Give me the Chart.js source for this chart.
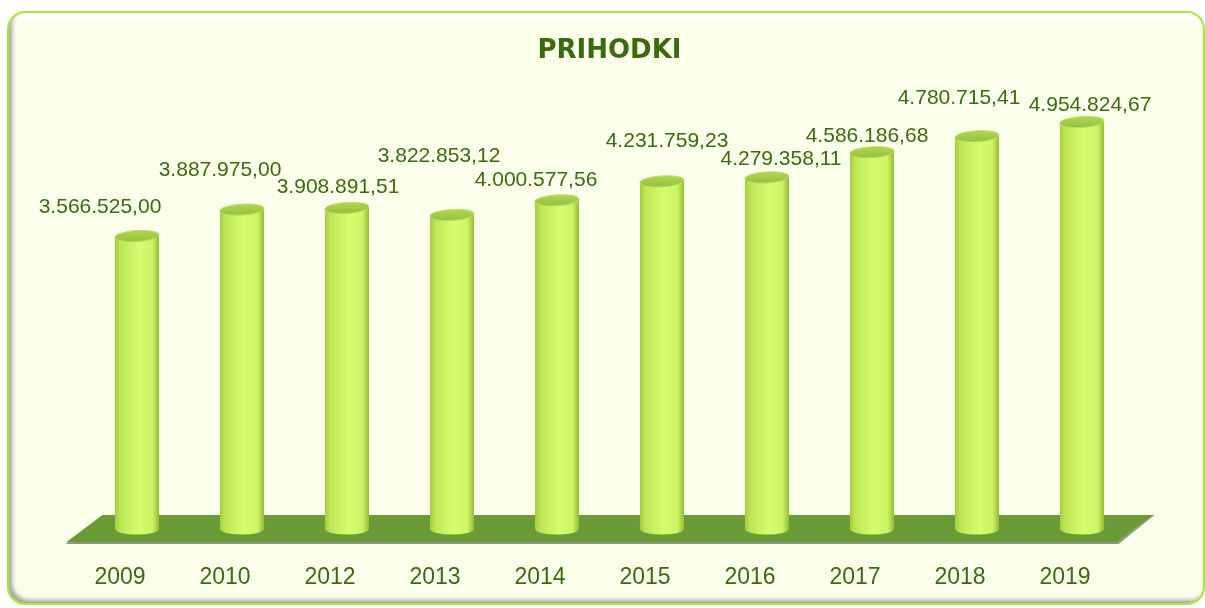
<!DOCTYPE html>
<html>
<head>
<meta charset="utf-8">
<script src="https://cdn.jsdelivr.net/npm/chart.js@4.4.1/dist/chart.umd.min.js"></script>
<style>
  html, body { margin: 0; padding: 0; background: #ffffff; }
  #frame {
    position: absolute; left: 7px; top: 11px; width: 1194px; height: 590px;
    border: 2px solid #a8e83c; border-radius: 18px; background: #fcfeec;
    box-shadow: inset 4px -4px 4px -1px rgba(90,90,90,0.55), inset 0 10px 6px -3px #ffffff;
  }
  #c { position: absolute; left: 0; top: 0; }
</style>
</head>
<body>
<div id="frame"></div>
<canvas id="c" width="1205" height="608"></canvas>
<script>
const categories = ['2009', '2010', '2012', '2013', '2014', '2015', '2016', '2017', '2018', '2019'];
const prihodki = [3566525.00, 3887975.00, 3908891.51, 3822853.12, 4000577.56, 4231759.23, 4279358.11, 4586186.68, 4780715.41, 4954824.67];
const valueLabels = ['3.566.525,00', '3.887.975,00', '3.908.891,51', '3.822.853,12', '4.000.577,56', '4.231.759,23', '4.279.358,11', '4.586.186,68', '4.780.715,41', '4.954.824,67'];
// label offsets from bar top (style, not data)
const labelDx = [-37, -22, -9, -13, -21, 5, 14, -5, -18, 8];
const labelDy = [-29, -39, -21, -59, -20, -40, -18, -16, -38, -17];

const textColor = '#3a6b0c';

const cylinderPlugin = {
  id: 'cylinders',
  beforeDatasetsDraw(chart) {
    const ctx = chart.ctx;
    const meta = chart.getDatasetMeta(0);
    const base = meta.data[0].base;
    const L = chart.chartArea.left, R = chart.chartArea.right;
    ctx.save();
    ctx.beginPath();
    ctx.moveTo(L + 18, base - 14);
    ctx.lineTo(R + 20, base - 14);
    ctx.lineTo(R - 16, base + 15);
    ctx.lineTo(L - 19, base + 15);
    ctx.closePath();
    ctx.fillStyle = '#8c9a84';
    ctx.fill();
    ctx.beginPath();
    ctx.moveTo(L + 18, base - 14);
    ctx.lineTo(R + 18, base - 14);
    ctx.lineTo(R - 18, base + 13);
    ctx.lineTo(L - 18, base + 13);
    ctx.closePath();
    ctx.fillStyle = '#6b9b36';
    ctx.fill();
    ctx.restore();
  },
  afterDatasetsDraw(chart) {
    const ctx = chart.ctx;
    const meta = chart.getDatasetMeta(0);
    ctx.save();
    meta.data.forEach((bar, i) => {
      const cx = bar.x, w = bar.width, top = bar.y, bot = bar.base;
      const x0 = cx - w / 2, x1 = cx + w / 2, rx = w / 2, ry = 5.5;
      const g = ctx.createLinearGradient(x0, 0, x1, 0);
      g.addColorStop(0, '#a4cc40');
      g.addColorStop(0.12, '#bfe655');
      g.addColorStop(0.55, '#d6fd70');
      g.addColorStop(0.85, '#cdf465');
      g.addColorStop(1, '#94bb38');
      ctx.beginPath();
      ctx.moveTo(x0, top);
      ctx.lineTo(x0, bot);
      ctx.ellipse(cx, bot, rx, ry, 0, Math.PI, 0, true);
      ctx.lineTo(x1, top);
      ctx.closePath();
      ctx.fillStyle = g;
      ctx.fill();
      ctx.beginPath();
      ctx.ellipse(cx, top, rx, ry, -0.06, 0, Math.PI * 2);
      const tg = ctx.createLinearGradient(0, top - ry, 0, top + ry);
      tg.addColorStop(0, '#b0d650');
      tg.addColorStop(1, '#96bf44');
      ctx.fillStyle = tg;
      ctx.fill();
      ctx.lineWidth = 1;
      ctx.strokeStyle = '#b9e05a';
      ctx.stroke();
      ctx.font = '21px "Liberation Sans", Arial, sans-serif';
      ctx.fillStyle = textColor;
      ctx.textAlign = 'center';
      ctx.textBaseline = 'middle';
      ctx.fillText(valueLabels[i], cx + labelDx[i], top + labelDy[i]);
    });
    ctx.restore();
  }
};

new Chart(document.getElementById('c'), {
  type: 'bar',
  data: {
    labels: categories,
    datasets: [{
      label: 'PRIHODKI',
      data: prihodki,
      backgroundColor: 'rgba(0,0,0,0)',
      borderWidth: 0,
      barPercentage: 0.42,
      categoryPercentage: 1.0
    }]
  },
  options: {
    responsive: false,
    animation: false,
    layout: { padding: { left: 84.5, right: 70.5, top: 12, bottom: 16 } },
    plugins: {
      legend: { display: false },
      tooltip: { enabled: false },
      title: {
        display: true,
        text: 'PRIHODKI',
        color: textColor,
        font: { family: '"DejaVu Sans", Verdana, sans-serif', size: 26, weight: 'bold' },
        padding: { top: 24, bottom: 10 }
      }
    },
    scales: {
      y: { display: false, min: 0, max: 5500000 },
      x: {
        grid: { display: false, drawTicks: false },
        border: { display: false },
        afterFit: (axis) => { axis.height = 63; },
        ticks: {
          color: textColor,
          padding: 35,
          labelOffset: -17,
          font: { family: '"Liberation Sans", Arial, sans-serif', size: 23 }
        }
      }
    }
  },
  plugins: [cylinderPlugin]
});
</script>
</body>
</html>
